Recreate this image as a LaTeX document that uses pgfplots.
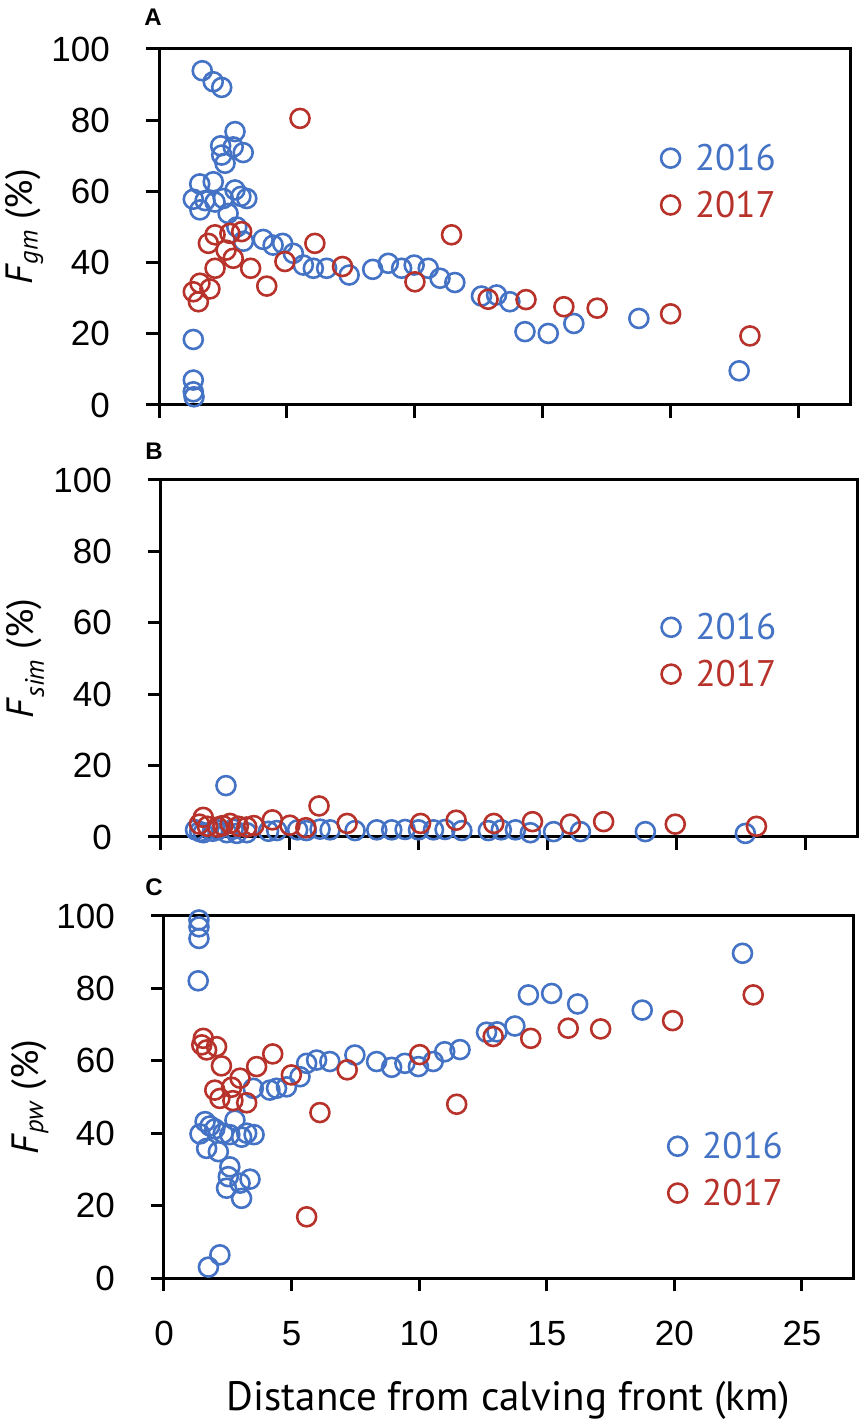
\documentclass[border=0pt]{standalone}
\usepackage{fontspec}
\setmainfont{Liberation Sans}
\newfontfamily\myriad{PT Sans}
\usepackage{pgfplots}
\usepackage{pgfplotstable}
\pgfplotsset{compat=1.18}
\definecolor{cblue}{RGB}{68,114,196}
\definecolor{cred}{RGB}{183,50,42}

\pgfplotstableread{
x y
1.69 93.9
2.12 90.8
2.45 89.2
2.97 76.8
2.41 72.8
2.90 72.5
3.29 70.9
2.45 70.2
2.58 67.9
1.59 62.1
2.12 62.7
1.34 57.8
1.60 54.8
1.80 57.4
2.19 57.0
2.51 58.0
2.97 60.4
3.20 58.6
3.43 58.0
2.70 53.8
3.04 50.0
3.30 46.0
4.07 46.5
4.46 44.9
4.83 45.4
5.25 42.6
5.64 39.3
6.03 38.4
6.55 38.4
7.43 36.5
8.35 38.1
8.96 39.8
9.48 38.4
9.97 39.3
10.52 38.4
10.98 35.6
11.56 34.4
12.60 30.6
13.19 30.9
13.71 29.0
14.30 20.6
15.21 20.1
16.21 22.9
18.75 24.3
22.67 9.6
1.34 18.4
1.34 7.0
1.34 3.7
1.37 2.3
}\gmA
\pgfplotstableread{
x y
5.51 80.5
6.09 45.4
4.92 40.3
7.17 38.9
4.21 33.4
3.58 38.4
3.23 48.7
2.77 48.2
2.19 47.8
1.93 45.4
2.62 43.5
2.90 41.2
2.19 38.4
1.60 34.2
1.34 31.8
1.54 29.0
1.99 32.6
10.00 34.6
11.43 47.8
12.86 29.7
14.34 29.6
15.82 27.6
17.12 27.2
19.99 25.6
23.09 19.4
}\gmB
\pgfplotstableread{
x y
1.34 2.0
1.50 1.5
1.64 1.2
2.00 1.6
2.20 2.0
2.52 14.4
2.55 1.2
2.80 2.2
2.94 1.0
3.33 1.2
4.17 1.6
4.49 1.8
5.30 2.0
5.64 1.8
6.17 2.2
6.56 2.0
7.53 1.8
8.37 2.0
8.95 2.0
9.47 2.1
9.99 2.0
10.57 2.0
11.02 2.1
11.67 1.8
12.70 1.8
13.20 2.0
13.75 2.0
14.33 1.2
15.23 1.5
16.27 1.5
18.79 1.5
22.67 1.0
}\simA
\pgfplotstableread{
x y
1.49 3.6
1.64 5.5
1.80 3.0
2.20 2.8
2.40 3.2
2.68 3.8
3.00 3.0
3.33 2.8
3.60 3.2
4.32 4.8
5.00 3.3
5.62 2.6
6.13 8.7
7.22 3.8
10.07 3.8
11.45 4.7
12.91 3.8
14.41 4.3
15.88 3.6
17.17 4.3
19.95 3.6
23.10 3.0
}\simB
\pgfplotstableread{
x y
1.37 98.9
1.37 97.0
1.37 93.8
1.34 82.1
1.74 3.0
2.19 6.4
1.61 43.2
1.41 39.8
1.67 35.8
1.99 41.2
1.80 42.0
2.13 34.9
2.32 40.0
2.58 39.6
2.78 43.6
3.04 38.9
3.24 40.0
3.53 39.6
2.58 30.7
2.52 28.0
2.45 24.8
2.98 26.2
3.37 27.3
3.04 22.0
3.50 52.4
4.15 51.9
4.41 52.4
4.80 52.8
5.33 55.6
5.59 59.3
5.98 60.2
6.50 59.8
7.48 61.6
8.33 59.8
8.92 58.2
9.44 59.3
9.97 58.4
10.55 59.8
11.00 62.5
11.60 63.1
12.64 67.9
13.05 68.0
13.75 69.6
14.28 78.2
15.19 78.6
16.21 75.7
18.74 74.0
22.67 89.7
}\pwA
\pgfplotstableread{
x y
1.54 66.2
1.48 64.4
1.67 63.0
2.06 63.9
2.25 58.6
1.99 51.9
2.19 49.6
2.65 52.7
2.98 55.2
2.70 49.0
3.24 48.4
3.63 58.4
4.26 61.9
4.99 56.1
6.11 45.7
5.59 16.9
7.18 57.5
10.02 61.7
11.47 48.0
12.90 66.7
14.37 66.2
15.84 69.0
17.11 68.8
19.93 71.1
23.09 78.2
}\pwB

\pgfplotsset{
  panel/.style={
    scale only axis,
    anchor=south west,
    xmin=0, xmax=27, ymin=0, ymax=100,
    xtick={0,5,...,25}, ytick={0,20,...,100},
    tick align=outside,
    xtick pos=lower, ytick pos=left,
    major tick length=13pt,
    axis line style={line width=3pt},
    major tick style={line width=3pt, black},
    /pgf/number format/assume math mode=true,
    tick label style={font=\fontsize{35}{35}\selectfont, inner sep=0pt},
    yticklabel style={anchor=east, xshift=-36pt},
    xticklabel style={anchor=north, yshift=-30pt},
    clip=false,
    ylabel style={at={(axis description cs:-0.195,0.5)}, anchor=center,
      font=\myriad\fontsize{38}{38}\selectfont},
    legend style={draw=none, fill=none, anchor=north west, inner sep=0pt,
      font=\myriad\fontsize{37}{37}\selectfont, row sep=19pt,
      nodes={inner sep=0pt}, column sep=15pt},
    legend cell align=left,
    legend image code/.code={\draw[##1] plot coordinates {(0pt,0pt)};},
  },
  s16/.style={only marks, mark=o, mark size=9.5pt, mark options={line width=2.6pt, draw=cblue}},
  s17/.style={only marks, mark=o, mark size=9.5pt, mark options={line width=2.6pt, draw=cred}},
}

\begin{document}
\begin{tikzpicture}
\path[use as bounding box] (0pt,0pt) rectangle (859pt,1421pt);

% Panel A
\begin{axis}[panel, at={(159pt,1016pt)}, width=691pt, height=356pt,
  xticklabels={},
  ylabel={\textit{F}\textsubscript{\textit{gm}} (\%)},
  legend style={at={(axis cs:19.61,73.3)}}]
\addplot[s16] table {\gmA};
\addlegendentry{\textcolor{cblue}{2016}}
\addplot[s17] table {\gmB};
\addlegendentry{\textcolor{cred}{2017}}
\end{axis}
\node[font=\bfseries\fontsize{24}{24}\selectfont] at (153pt,1404pt) {A};

% Panel B
\begin{axis}[panel, at={(161pt,584pt)}, width=696pt, height=357pt,
  xticklabels={},
  ylabel={\textit{F}\textsubscript{\textit{sim}} (\%)},
  legend style={at={(axis cs:19.41,62.7)}}]
\addplot[s16] table {\simA};
\addlegendentry{\textcolor{cblue}{2016}}
\addplot[s17] table {\simB};
\addlegendentry{\textcolor{cred}{2017}}
\end{axis}
\node[font=\bfseries\fontsize{24}{24}\selectfont] at (154pt,970pt) {B};

% Panel C
\begin{axis}[panel, at={(164pt,143pt)}, width=689pt, height=362pt,
  ylabel={\textit{F}\textsubscript{\textit{pw}} (\%)},
  xlabel={Distance from calving front (km)},
  xlabel style={at={(axis description cs:0.5,0)}, anchor=center, yshift=-122pt,
    font=\myriad\fontsize{41}{41}\selectfont},
  legend style={at={(axis cs:19.75,40.3)}}]
\addplot[s16] table {\pwA};
\addlegendentry{\textcolor{cblue}{2016}}
\addplot[s17] table {\pwB};
\addlegendentry{\textcolor{cred}{2017}}
\end{axis}
\node[font=\bfseries\fontsize{24}{24}\selectfont] at (154pt,534pt) {C};
\end{tikzpicture}
\end{document}
